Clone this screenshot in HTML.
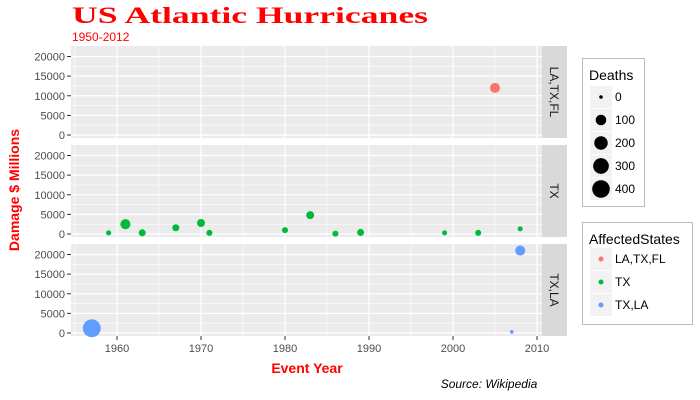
<!DOCTYPE html>
<html><head><meta charset="utf-8"><style>
body{margin:0;background:#fff;}
svg{display:block;font-family:"Liberation Sans",sans-serif;}
</style></head><body>
<svg id="c" width="700" height="400" xmlns="http://www.w3.org/2000/svg">
<text x="72" y="23" font-family="Liberation Serif,serif" font-weight="bold" font-size="23" fill="#ff0000" textLength="356" lengthAdjust="spacingAndGlyphs">US Atlantic Hurricanes</text>
<text x="72" y="41" font-size="12" fill="#ff0000">1950-2012</text>
<text transform="translate(19,190) rotate(-90)" text-anchor="middle" font-size="14" font-weight="bold" fill="#ff0000">Damage $ Millions</text>
<text x="307" y="373" text-anchor="middle" font-size="14" font-weight="bold" fill="#ff0000">Event Year</text>
<text x="489" y="388" text-anchor="middle" font-size="12" font-style="italic" fill="#000">Source: Wikipedia</text>
<g id="panels"></g>
<g>
<rect x="582.5" y="58.5" width="62" height="148" fill="#fff" stroke="#bbb"/>
<text x="589" y="80" font-size="14" fill="#000">Deaths</text>
<g id="sizeleg"></g>
</g>
<g>
<rect x="582.5" y="222.5" width="110" height="102" fill="#fff" stroke="#bbb"/>
<text x="589" y="244" font-size="14" fill="#000">AffectedStates</text>
<g id="colleg"></g>
</g>
</svg>
<script>
const facets = ['LA,TX,FL','TX','TX,LA'];
const colors = ['#F8766D','#00BA38','#619CFF'];
const years = [2005, 1959,1961,1963,1967,1970,1971,1980,1983,1986,1989,1999,2003,2008, 1957,2007,2008];
const damage = [12000, 300,2500,300,1600,2800,300,1000,4800,100,400,300,300,1300, 1200,300,21000];
const deaths = [85, 5,85,24,24,40,12,12,40,12,24,4,12,4, 416,0,85];
const group = [0, 1,1,1,1,1,1,1,1,1,1,1,1,1, 2,2,2];
const yTicks = [0,5000,10000,15000,20000];
const xTicks = [1960,1970,1980,1990,2000,2010];
const sizeLegend = [0,100,200,300,400];

const NS='http://www.w3.org/2000/svg';
const svg=document.getElementById('c');
const P=document.getElementById('panels');
const PX0=71, PX1=542;
const panelTops=[46,145,244], PH=92;
const X=y=>117+(y-1960)*8.4;
const Y=(v,p)=>panelTops[p]+89-v*78.5/20000;
const R=d=>1.8+7*Math.sqrt(d/400);
function el(t,a,parent){const e=document.createElementNS(NS,t);for(const k in a)e.setAttribute(k,a[k]);(parent||P).appendChild(e);return e;}

facets.forEach((f,p)=>{
  const top=panelTops[p];
  const bg=el('rect',{x:PX0,y:top,width:PX1-PX0,height:PH,fill:'#EBEBEB'});
  
  
  for(let i=0;i<yTicks.length-1;i++){const v=(yTicks[i]+yTicks[i+1])/2;el('line',{x1:PX0,x2:PX1,y1:Y(v,p),y2:Y(v,p),stroke:'#fff','stroke-width':0.6});}
  for(let yr=1955;yr<=2010;yr+=10){el('line',{x1:X(yr),x2:X(yr),y1:top,y2:top+PH,stroke:'#fff','stroke-width':0.6});}
  yTicks.forEach(v=>{
    el('line',{x1:PX0,x2:PX1,y1:Y(v,p),y2:Y(v,p),stroke:'#fff','stroke-width':1.2});
    el('line',{x1:PX0-4,x2:PX0,y1:Y(v,p),y2:Y(v,p),stroke:'#333'});
    const t=el('text',{x:PX0-6,y:Y(v,p)+4,'text-anchor':'end','font-size':11,fill:'#4d4d4d'});t.textContent=v;
    
    
  });
  xTicks.forEach(yr=>el('line',{x1:X(yr),x2:X(yr),y1:top,y2:top+PH,stroke:'#fff','stroke-width':1.2}));
  const s=el('rect',{x:PX1,y:top,width:25,height:PH,fill:'#D9D9D9'});
  
  
  const st=el('text',{transform:`translate(${PX1+8},${top+PH/2}) rotate(90)`,'text-anchor':'middle','font-size':12,fill:'#1a1a1a'});st.textContent=f;
  
  
});
xTicks.forEach(yr=>{
  el('line',{x1:X(yr),x2:X(yr),y1:336,y2:340,stroke:'#333'});
  const t=el('text',{x:X(yr),y:352,'text-anchor':'middle','font-size':11,fill:'#4d4d4d'});t.textContent=yr;
  
  
});
years.forEach((yr,i)=>{
  const c=el('circle',{cx:X(yr),cy:Y(damage[i],group[i]),r:R(deaths[i]),fill:colors[group[i]]});
  
  
});
const SL=document.getElementById('sizeleg');
sizeLegend.forEach((d,i)=>{
  const cy=97+i*23;
  el('rect',{x:590,y:cy-11,width:22,height:22,fill:'#F2F2F2'},SL);
  const c=el('circle',{cx:601,cy:cy,r:R(d),fill:'#000'},SL);
  
  
  const t=el('text',{x:615,y:cy+4,'font-size':12,fill:'#000'},SL);t.textContent=d;
});
const CL=document.getElementById('colleg');
facets.forEach((f,i)=>{
  const cy=259+i*23;
  el('rect',{x:590,y:cy-11,width:22,height:22,fill:'#F2F2F2'},CL);
  const c=el('circle',{cx:601,cy:cy,r:2.5,fill:colors[i]},CL);
  
  
  const t=el('text',{x:615,y:cy+4,'font-size':12,fill:'#000'},CL);t.textContent=f;
});
</script>
</body></html>
